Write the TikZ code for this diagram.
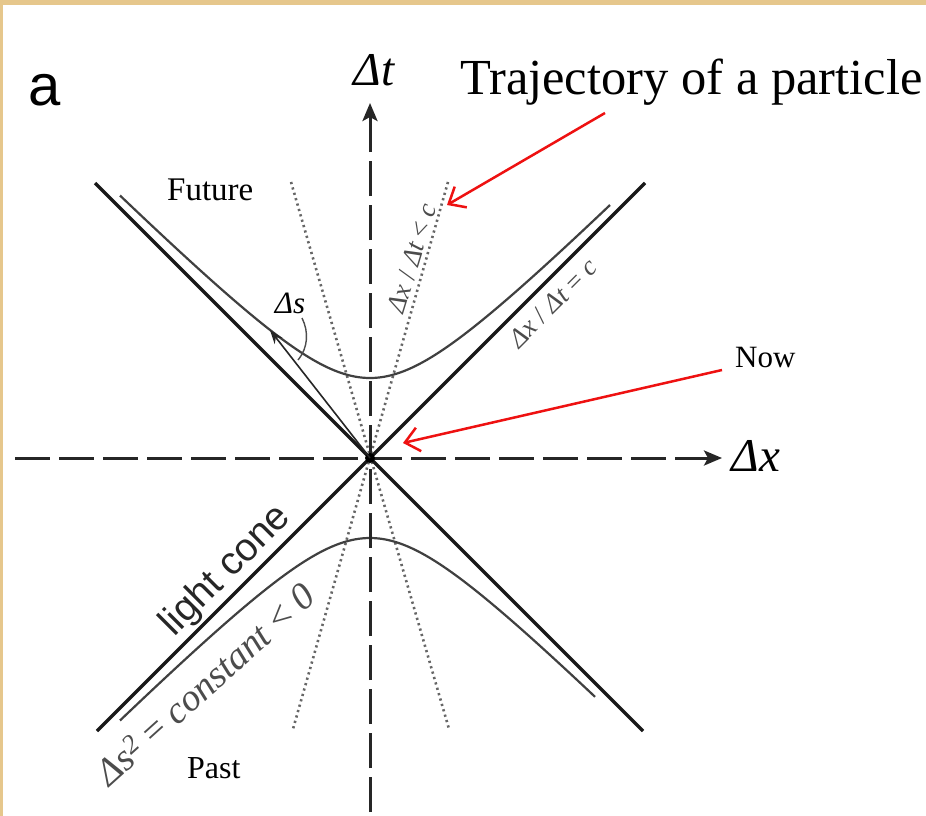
\documentclass[tikz,border=0pt]{standalone}
\usepackage{fontspec}
\setmainfont{Liberation Serif}
\newfontfamily\arialfont{Liberation Sans}
\usetikzlibrary{arrows.meta}
\definecolor{parch}{HTML}{E6C78C}
\definecolor{redarr}{HTML}{EE1111}
\begin{document}
\begin{tikzpicture}[x=1pt,y=-1pt,
  axis/.style={line width=3pt,color=black!85,dash pattern=on 35pt off 9pt,
    -{Stealth[length=18pt,width=15pt,inset=4pt]}},
  cone/.style={line width=3.4pt,color=black!90},
  hyp/.style={line width=2.2pt,color=black!75},
  traj/.style={line width=2.6pt,color=black!60,dash pattern=on 2.2pt off 3.4pt},
  redarrow/.style={line width=2.5pt,color=redarr,
    -{Straight Barb[length=14pt,width=24pt,line width=2.5pt]}},
  lbl/.style={inner sep=0pt,text=black}
]
\useasboundingbox (0,0) rectangle (926,816);
\fill[parch] (0,0) rectangle (926,816);
\fill[white] (3,5) rectangle (926,816);

% coordinates
\coordinate (O) at (370,458);
\coordinate (xl) at (15,458);
\coordinate (xr) at (722,458);
\coordinate (yb) at (370,812);
\coordinate (yt) at (370,103);
\coordinate (ul) at (95,183);
\coordinate (lr) at (643,731);
\coordinate (ur) at (645,183);
\coordinate (ll) at (97,731);
\coordinate (t1a) at (291,182);
\coordinate (t1b) at (449,729);
\coordinate (t2a) at (448,182);
\coordinate (t2b) at (293,729);
\coordinate (S) at (270,330);

% trajectories (dotted)
\draw[traj] (t1a) -- (t1b);
\draw[traj] (t2a) -- (t2b);

% hyperbolas
\draw[hyp] plot[domain=-25:24,samples=120,smooth] ({370+10*\x},{458-10*sqrt(64+\x*\x)});
\draw[hyp] plot[domain=-25:22.5,samples=120,smooth] ({370+10*\x},{458+10*sqrt(64+\x*\x)});

% light cone
\draw[cone] (ul) -- (lr);
\draw[cone] (ur) -- (ll);

% axes
\draw[axis] (xl) -- (xr);
\draw[axis] (yb) -- (yt);
\fill[black] (O) circle (5pt);

% Delta s arrow
\draw[line width=1.6pt,black!85,-{Stealth[length=14pt,width=10pt]}] (O) -- (S);
\draw[line width=1.4pt,black!70] (302,318) .. controls (309,332) and (308,348) .. (298,360);

% labels
\node[lbl,font=\arialfont\fontsize{58}{58}\selectfont] (a) at (45,90) {a};
\node[lbl,font=\itshape\fontsize{47}{47}\selectfont] (dt) at (374,70) {Δt};
\node[lbl,font=\itshape\fontsize{47}{47}\selectfont] (dx) at (756,456) {Δx};
\node[lbl,font=\fontsize{50.5}{50.5}\selectfont,anchor=base west] (traj) at (460,95) {Trajectory of a particle};
\node[lbl,font=\fontsize{33}{33}\selectfont,anchor=base west] (fut) at (167,200) {Future};
\node[lbl,font=\fontsize{32}{32}\selectfont,anchor=base west] (past) at (187,778) {Past};
\node[lbl,font=\fontsize{31}{31}\selectfont,anchor=base west] (now) at (735,367) {Now};
\node[lbl,font=\itshape\fontsize{31}{31}\selectfont] (ds) at (290,303) {Δs};

\node[lbl,rotate=45,font=\arialfont\fontsize{39}{39}\selectfont,text=black!85] (lc) at (226,571) {light cone};
\node[lbl,rotate=42,font=\fontsize{38}{38}\selectfont,text=black!70] (inv) at (205,684)
  {\itshape Δs\textsuperscript{2}\upshape{} = \itshape constant\upshape{} \textless{} \itshape 0};
\node[lbl,rotate=73,font=\fontsize{27}{27}\selectfont,text=black!70] (vlt) at (412,258)
  {\itshape Δx \upshape/ \itshape Δt \upshape\textless{} \itshape c};
\node[lbl,rotate=45,font=\fontsize{27}{27}\selectfont,text=black!70] (veq) at (553,303)
  {\itshape Δx \upshape/ \itshape Δt \upshape= \itshape c};

% red arrows
\coordinate (r1s) at (605,113);
\coordinate (r1e) at (447,205);
\coordinate (r2s) at (722,370);
\coordinate (r2e) at (403,443);
\draw[redarrow] (r1s) -- (r1e);
\draw[redarrow] (r2s) -- (r2e);
\end{tikzpicture}
\end{document}
